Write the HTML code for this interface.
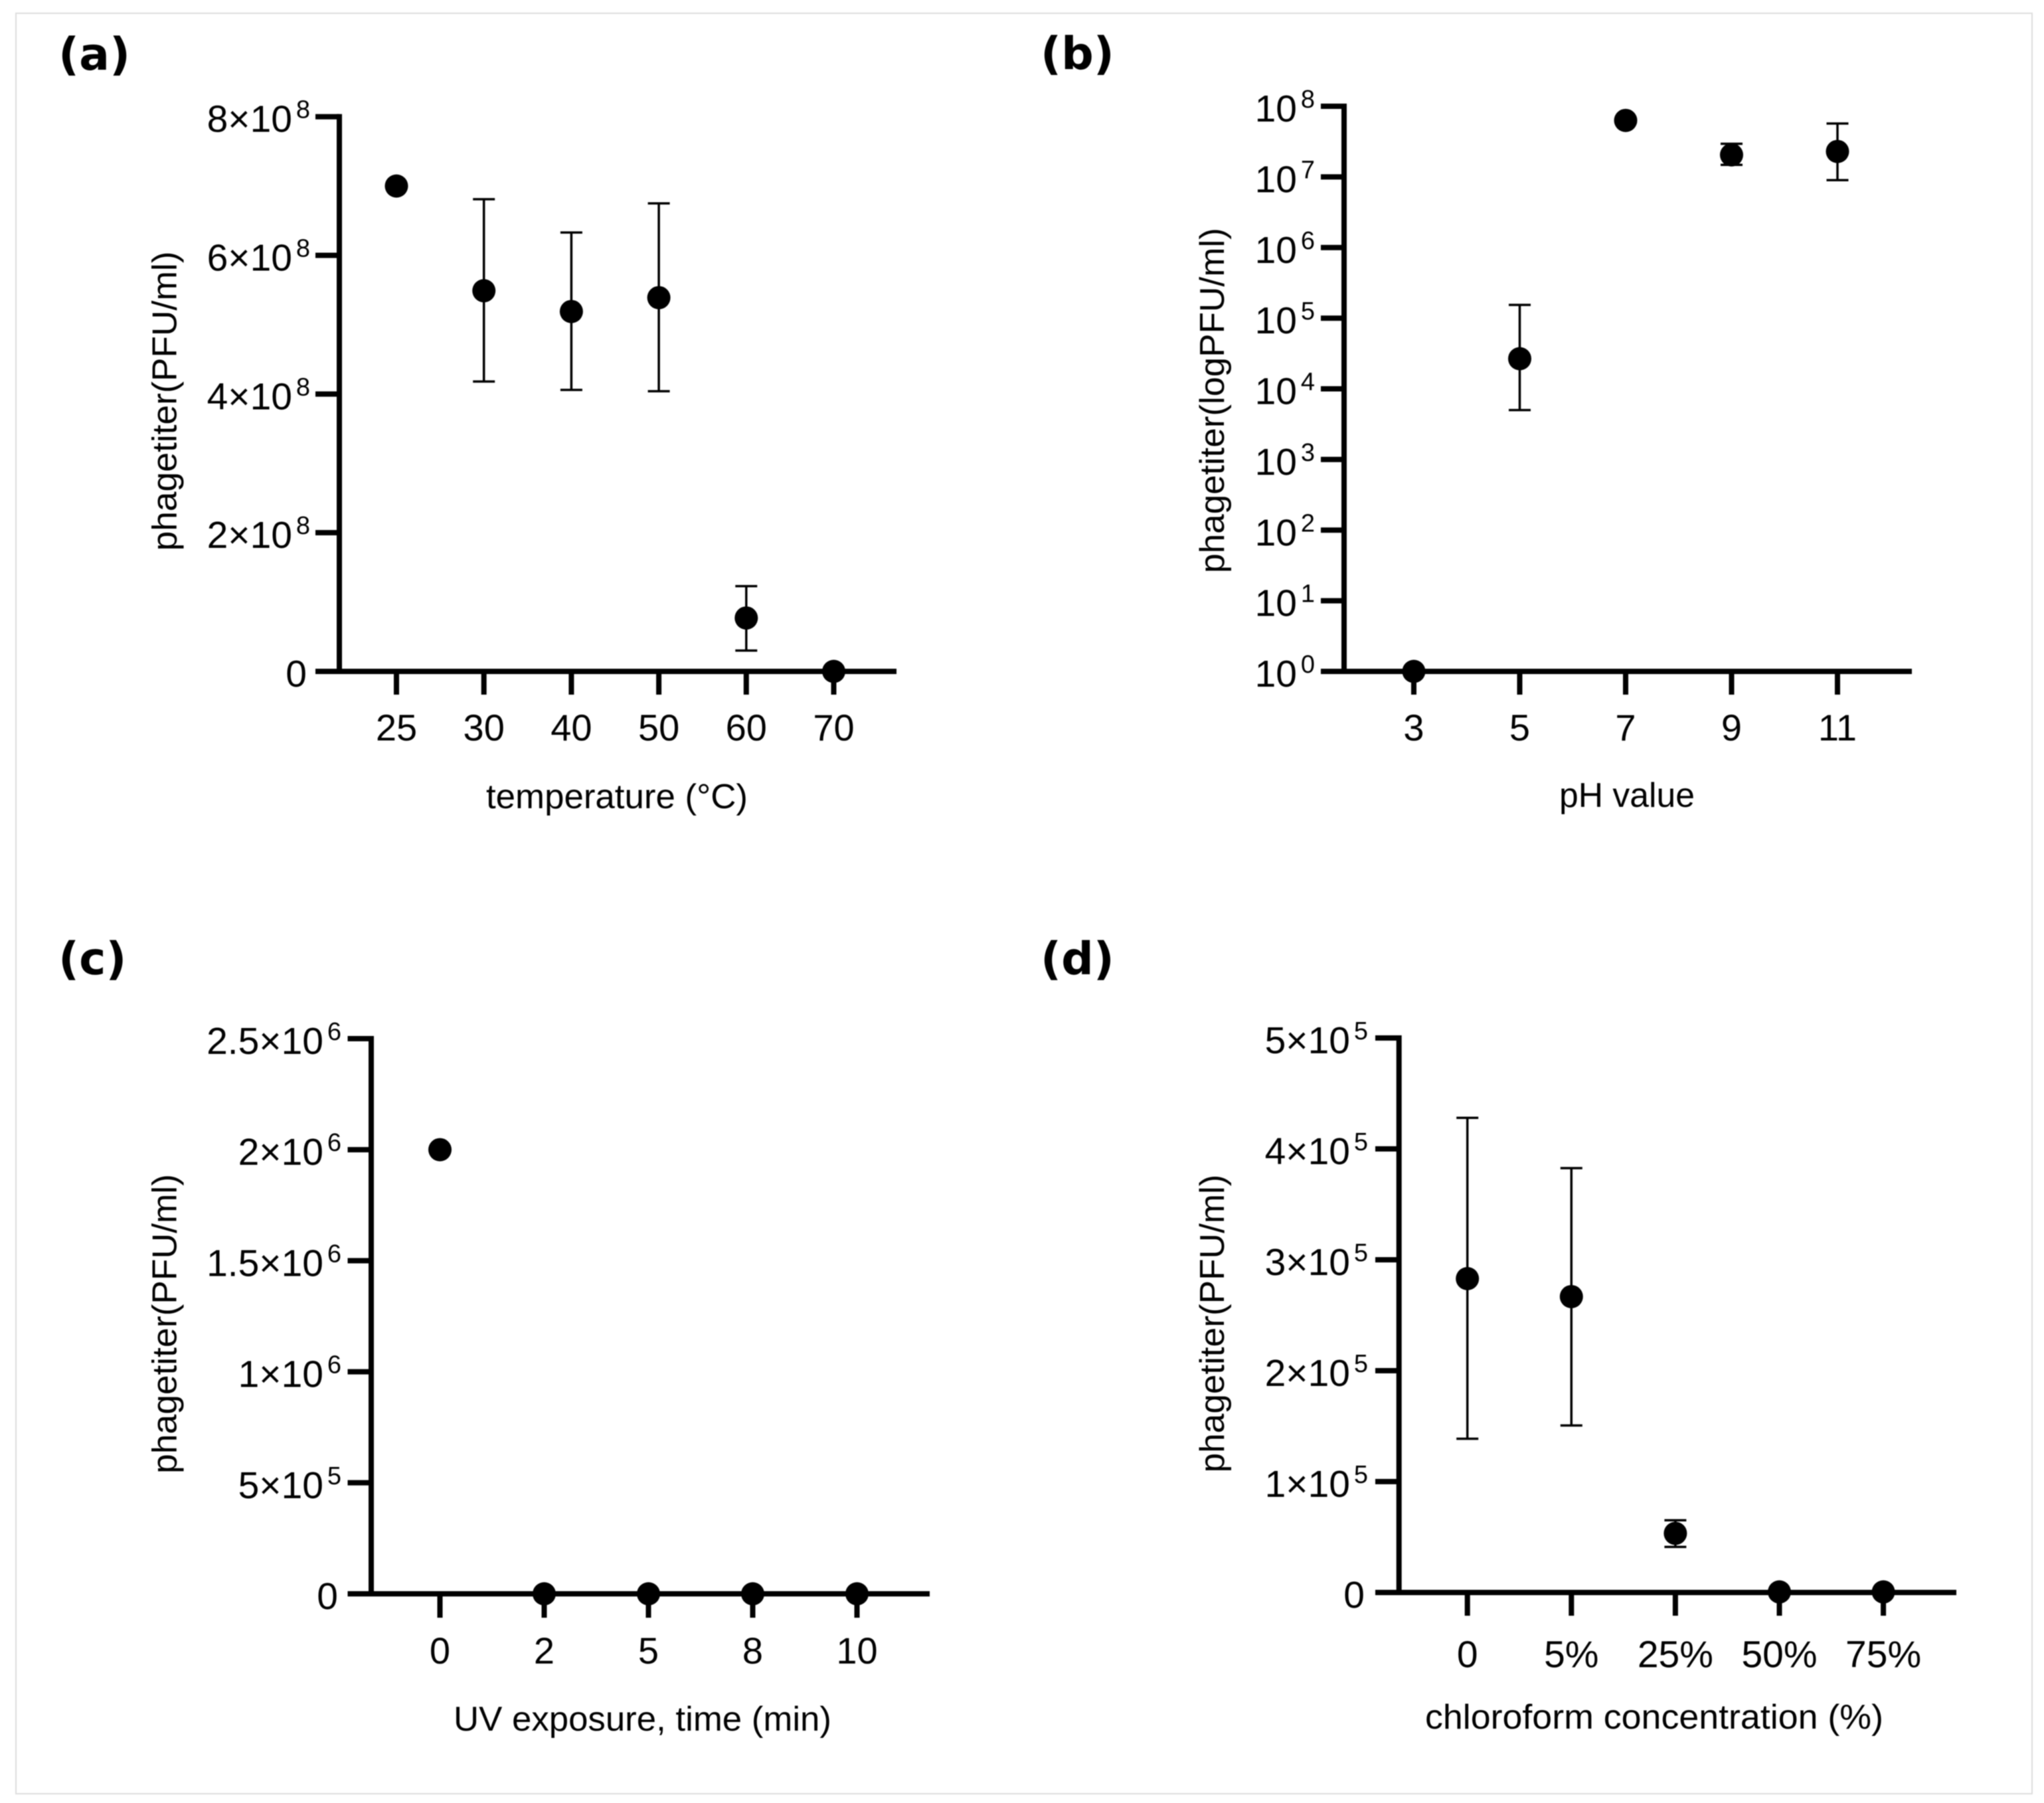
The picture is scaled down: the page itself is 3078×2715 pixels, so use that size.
<!DOCTYPE html>
<html lang="en">
<head>
<meta charset="utf-8">
<title>Phage stability panels</title>
<style>
html,body{margin:0;padding:0;background:#fff;width:3078px;height:2715px;overflow:hidden}
svg{display:block;filter:blur(0.7px)}
text{font-family:"Liberation Sans",sans-serif;fill:#000}
.panel-label{font-family:"DejaVu Sans",sans-serif;font-weight:700;font-size:68px}
</style>
</head>
<body>
<svg id="figure" xmlns="http://www.w3.org/2000/svg" width="3078" height="2715" viewBox="0 0 3078 2715">
  <rect x="24" y="20" width="3036" height="2681" fill="#fff" stroke="#dcdcdc" stroke-width="2"/>
</svg>
<script>
// Panel (a) temperature
const tempCategories = ['25','30','40','50','60','70'];
const tempValues = [7.0e8,5.49e8,5.19e8,5.39e8,0.77e8,0];
const tempUpper = [null,6.81e8,6.33e8,6.75e8,1.23e8,null];
const tempLower = [null,4.18e8,4.06e8,4.04e8,0.30e8,null];
const tempTickValues = [0,2e8,4e8,6e8,8e8];
const tempTickLabels = ['0','2×10','4×10','6×10','8×10'];
const tempTickExps = ['','8','8','8','8'];

// Panel (b) pH
const phCategories = ['3','5','7','9','11'];
const phValues = [1,2.67e4,6.3e7,2.05e7,2.29e7];
const phUpper = [null,1.54e5,null,2.94e7,5.7e7];
const phLower = [null,5.0e3,null,1.48e7,9.0e6];
const phTickValues = [1,1e1,1e2,1e3,1e4,1e5,1e6,1e7,1e8];
const phTickLabels = ['10','10','10','10','10','10','10','10','10'];
const phTickExps = ['0','1','2','3','4','5','6','7','8'];

// Panel (c) UV
const uvCategories = ['0','2','5','8','10'];
const uvValues = [2e6,0,0,0,0];
const uvUpper = [null,null,null,null,null];
const uvLower = [null,null,null,null,null];
const uvTickValues = [0,5e5,1e6,1.5e6,2e6,2.5e6];
const uvTickLabels = ['0','5×10','1×10','1.5×10','2×10','2.5×10'];
const uvTickExps = ['','5','6','6','6','6'];

// Panel (d) chloroform
const chlCategories = ['0','5%','25%','50%','75%'];
const chlValues = [2.83e5,2.668e5,0.533e5,500,500];
const chlUpper = [4.28e5,3.826e5,0.651e5,null,null];
const chlLower = [1.386e5,1.506e5,0.411e5,null,null];
const chlTickValues = [0,1e5,2e5,3e5,4e5,5e5];
const chlTickLabels = ['0','1×10','2×10','3×10','4×10','5×10'];
const chlTickExps = ['','5','5','5','5','5'];

const panels = [
  {key:'temperature',label:'(a)',labelX:88,labelY:105,
   axisX:511,top:175.7,zero:1011,left:475,right:1350,tickEnd:1046,firstX:597,stepX:131.7,
   tickLabelRight:467,xTickBase:1115,xTickSize:56,
   xTitle:'temperature (°C)',xTitleX:929,xTitleY:1217,xTitleLen:394,
   yTitle:'phagetiter(PFU/ml)',yTitleX:265.5,yTitleY:604,yTitleLen:451,
   log:false,max:8e8,
   cats:tempCategories,vals:tempValues,up:tempUpper,lo:tempLower,
   tv:tempTickValues,tl:tempTickLabels,te:tempTickExps},
  {key:'ph',label:'(b)',labelX:1567,labelY:104,
   axisX:2024,top:160,zero:1011,left:1989,right:2879,tickEnd:1046,firstX:2129,stepX:159.5,
   tickLabelRight:1980,xTickBase:1115,xTickSize:56,
   xTitle:'pH value',xTitleX:2450,xTitleY:1215,xTitleLen:204,
   yTitle:'phagetiter(logPFU/ml)',yTitleX:1843,yTitleY:603,yTitleLen:520,
   log:true,max:1e8,
   cats:phCategories,vals:phValues,up:phUpper,lo:phLower,
   tv:phTickValues,tl:phTickLabels,te:phTickExps},
  {key:'uv',label:'(c)',labelX:88,labelY:1467,
   axisX:559,top:1564,zero:2400,left:523.5,right:1400,tickEnd:2436,firstX:662.5,stepX:157,
   tickLabelRight:514,xTickBase:2505,xTickSize:56,
   xTitle:'UV exposure, time (min)',xTitleX:967.5,xTitleY:2606,xTitleLen:569,
   yTitle:'phagetiter(PFU/ml)',yTitleX:265.5,yTitleY:1993.5,yTitleLen:451,
   log:false,max:2.5e6,
   cats:uvCategories,vals:uvValues,up:uvUpper,lo:uvLower,
   tv:uvTickValues,tl:uvTickLabels,te:uvTickExps},
  {key:'chloroform',label:'(d)',labelX:1567,labelY:1467,
   axisX:2106.7,top:1563,zero:2398,left:2071,right:2946,tickEnd:2433,firstX:2209.7,stepX:156.6,
   tickLabelRight:2060,xTickBase:2510.5,xTickSize:57,
   xTitle:'chloroform concentration (%)',xTitleX:2491,xTitleY:2603,xTitleLen:690,
   yTitle:'phagetiter(PFU/ml)',yTitleX:1843,yTitleY:1993,yTitleLen:449,
   log:false,max:5e5,
   cats:chlCategories,vals:chlValues,up:chlUpper,lo:chlLower,
   tv:chlTickValues,tl:chlTickLabels,te:chlTickExps}
];

const NS = 'http://www.w3.org/2000/svg';
const svg = document.getElementById('figure');

function node(parent, tag, attrs, txt) {
  const el = document.createElementNS(NS, tag);
  for (const k in attrs) el.setAttribute(k, attrs[k]);
  if (txt !== undefined) el.textContent = txt;
  parent.appendChild(el);
  return el;
}
function yScale(p, v) {
  const frac = p.log ? Math.log10(v) / Math.log10(p.max) : v / p.max;
  return p.zero - frac * (p.zero - p.top);
}
function xScale(p, i) {
  return p.firstX + i * p.stepX;
}
function vline(parent, x, y1, y2, w) {
  return node(parent, 'line', {x1:x, x2:x, y1:y1, y2:y2, stroke:'#000', 'stroke-width':w});
}
function hline(parent, x1, x2, y, w) {
  return node(parent, 'line', {x1:x1, x2:x2, y1:y, y2:y, stroke:'#000', 'stroke-width':w});
}

panels.forEach(function (p) {
  const g = node(svg, 'g', {});
  
  

  const lab = node(g, 'text', {class:'panel-label', x:p.labelX, y:p.labelY}, p.label);
  
  

  // y ticks and labels
  p.tv.forEach(function (v, i) {
    const y = yScale(p, v);
    const tick = hline(g, p.left, p.axisX, y, 8);
    
    
    const hasExp = p.te[i] !== '';
    const main = node(g, 'text', {x: hasExp ? p.tickLabelRight - 27 : p.tickLabelRight - 5, y: y + 23, 'text-anchor':'end', 'font-size':57}, p.tl[i]);
    
    
    if (hasExp) {
      const sup = node(g, 'text', {x:p.tickLabelRight, y:y + 2, 'text-anchor':'end', 'font-size':38}, p.te[i]);
      
      
    }
  });

  // x ticks and labels
  p.cats.forEach(function (c, i) {
    const x = xScale(p, i);
    const tick = vline(g, x, p.zero, p.tickEnd, 8);
    
    
    const t = node(g, 'text', {x:x, y:p.xTickBase, 'text-anchor':'middle', 'font-size':p.xTickSize}, c);
    
    
  });

  // axes
  const yAxis = vline(g, p.axisX, p.top - 4, p.zero + 4, 8);
  
  
  const xAxis = hline(g, p.left, p.right, p.zero, 8);
  
  

  // titles
  const xt = node(g, 'text', {x:p.xTitleX, y:p.xTitleY, 'text-anchor':'middle', 'font-size':52, textLength:p.xTitleLen, lengthAdjust:'spacingAndGlyphs'}, p.xTitle);
  
  
  const yt = node(g, 'text', {x:p.yTitleX, y:p.yTitleY, 'text-anchor':'middle', 'font-size':52, textLength:p.yTitleLen, lengthAdjust:'spacingAndGlyphs', transform:'rotate(-90 ' + p.yTitleX + ' ' + p.yTitleY + ')'}, p.yTitle);
  
  

  // series
  p.vals.forEach(function (v, i) {
    const x = xScale(p, i);
    if (p.up[i] !== null) {
      const yu = yScale(p, p.up[i]);
      const yl = yScale(p, p.lo[i]);
      const stem = vline(g, x, yu, yl, 3.5);
      
      
      const capU = hline(g, x - 16.5, x + 16.5, yu, 3.5);
      
      
      const capL = hline(g, x - 16.5, x + 16.5, yl, 3.5);
      
      
    }
    const dot = node(g, 'circle', {cx:x, cy:yScale(p, v), r:17.5, fill:'#000'});
    
    
  });
});
</script>
</body>
</html>
